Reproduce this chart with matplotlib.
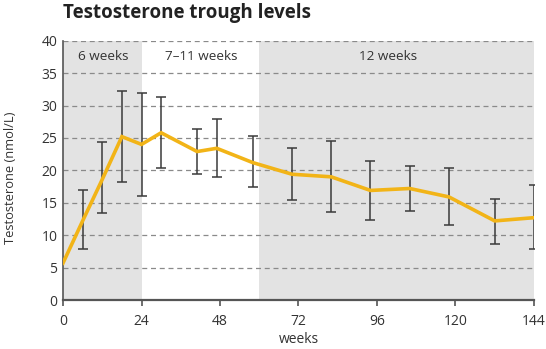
import matplotlib
matplotlib.use("Agg")
import matplotlib.pyplot as plt
import numpy as np

plt.rcParams['font.family'] = ['Open Sans', 'DejaVu Sans']

weeks = [0, 6, 12, 18, 24, 30, 41, 47, 58, 70, 82, 94, 106, 118, 132, 144]
values = [5.7, 12.2, 18.6, 25.2, 24.0, 25.8, 22.9, 23.4, 21.2, 19.4, 19.0, 16.9, 17.2, 15.9, 12.2, 12.7]
err_top = [None, 16.9, 24.4, 32.3, 32.0, 31.3, 26.4, 27.9, 25.3, 23.4, 24.6, 21.4, 20.7, 20.4, 15.6, 17.7]
err_bot = [None, 7.9, 13.4, 18.2, 16.0, 20.4, 19.4, 18.9, 17.4, 15.4, 13.5, 12.3, 13.7, 11.5, 8.7, 7.8]

phases = ["6 weeks", "7\u201311 weeks", "12 weeks"]
phase_start = [0, 24, 60]
phase_end = [24, 60, 144]
phase_shaded = [True, False, True]

xticks = [0, 24, 48, 72, 96, 120, 144]
yticks = [0, 5, 10, 15, 20, 25, 30, 35, 40]

fig = plt.figure(figsize=(5.46, 3.49), dpi=100)
ax = fig.add_axes([0.1154, 0.1404, 0.978 - 0.1154, 0.8834 - 0.1404])

for name, s, e, sh in zip(phases, phase_start, phase_end, phase_shaded):
    if sh:
        ax.axvspan(s, e, color='#e3e3e3', lw=0, zorder=0)

for y in yticks[1:]:
    ax.axhline(y, color='#8a8a8a', lw=0.9, ls=(0, (4, 3)), zorder=1)

centers = [12.2, 42.2, 99.5]
for name, c in zip(phases, centers):
    ax.text(c, 37.6, name, ha='center', va='center', fontsize=9.7, color='#333333', zorder=3)

ew = [i for i in range(len(weeks)) if err_top[i] is not None]
ex = [weeks[i] for i in ew]
ey = [values[i] for i in ew]
lo = [values[i] - err_bot[i] for i in ew]
hi = [err_top[i] - values[i] for i in ew]
ax.errorbar(ex, ey, yerr=[lo, hi], fmt='none', ecolor='#3a3a3a', elinewidth=1.1,
            capsize=3.5, capthick=1.1, zorder=4)

ax.plot(weeks, values, color='#f2b417', lw=2.6, zorder=5, solid_joinstyle='miter')

ax.set_xlim(0, 144)
ax.set_ylim(0, 40)
ax.set_xticks(xticks)
ax.set_yticks(yticks)
ax.tick_params(axis='both', labelsize=10, colors='#333333')
ax.tick_params(axis='x', length=4, width=1.2, color='#555555', pad=6)
ax.tick_params(axis='y', length=0, pad=4)
for sp in ['top', 'right']:
    ax.spines[sp].set_visible(False)
ax.spines['left'].set_color('#555555')
ax.spines['left'].set_linewidth(1.2)
ax.spines['bottom'].set_color('#555555')
ax.spines['bottom'].set_linewidth(1.6)
ax.set_xlabel('weeks', fontsize=10, color='#333333', labelpad=2)
ax.set_ylabel('Testosterone (nmol/L)', fontsize=9.3, color='#333333')
ax.yaxis.set_label_coords(-0.098, 0.47)

fig.text(0.1154, 0.962, 'Testosterone trough levels', fontsize=13.5, fontweight='bold',
         color='#222222', ha='left', va='center')

fig.savefig('out.png', dpi=100)
